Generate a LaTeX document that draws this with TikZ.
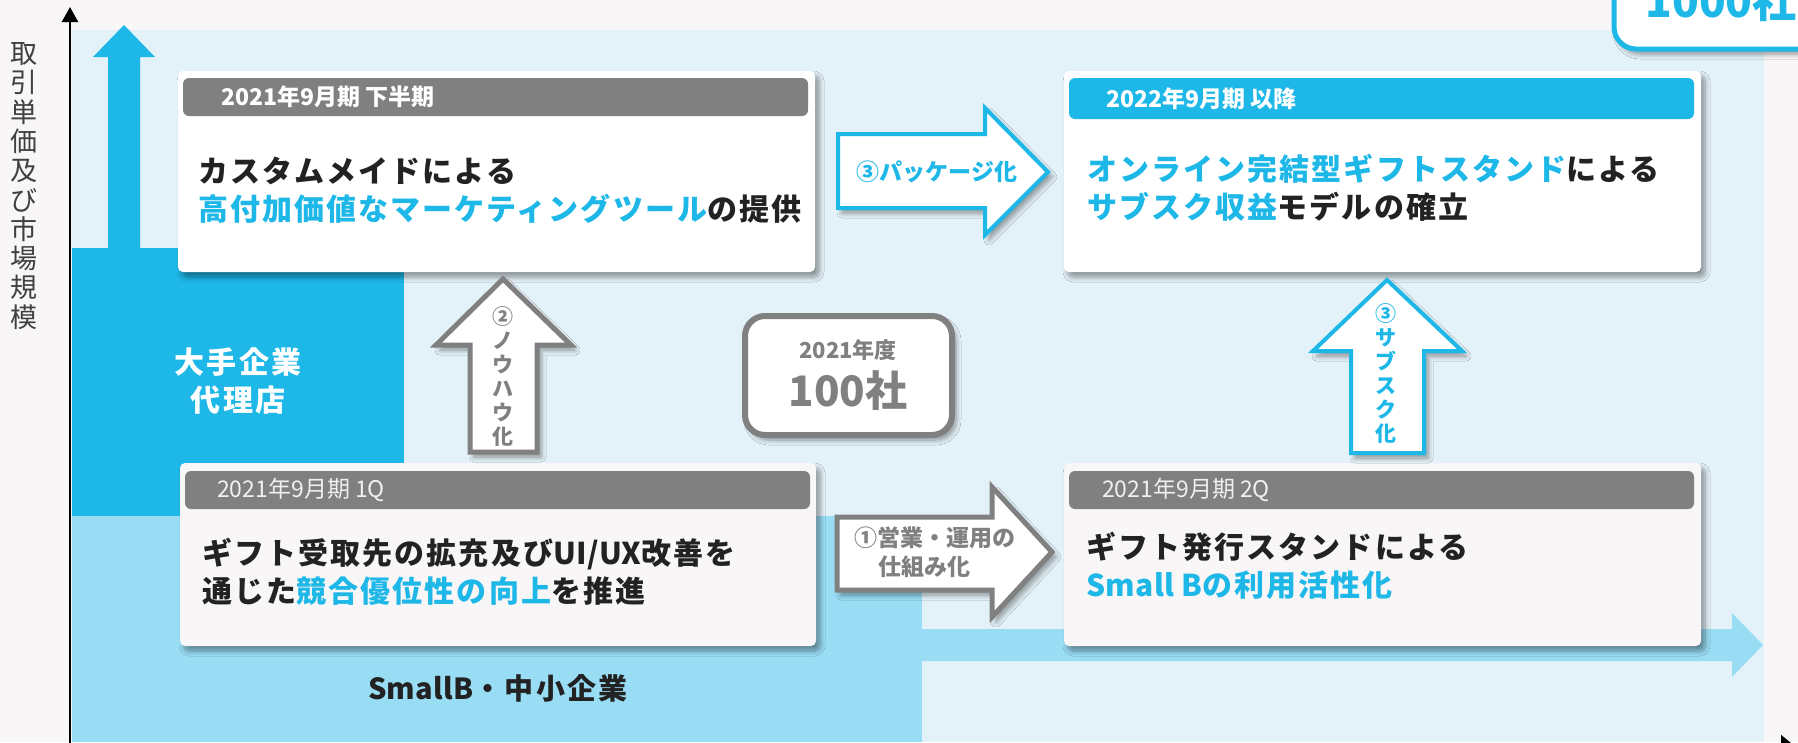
\documentclass[tikz,border=0pt]{standalone}
\usepackage{fontspec}
\setmainfont{Noto Sans CJK JP}
\usetikzlibrary{shadows.blur,arrows.meta}
\definecolor{bgc}{HTML}{F8F6F7}
\definecolor{panel}{HTML}{E3F1F8}
\definecolor{dblue}{HTML}{1DB7E8}
\definecolor{lblue}{HTML}{99DDF5}
\definecolor{hgray}{HTML}{808080}
\definecolor{ink}{HTML}{222222}
\definecolor{axlab}{HTML}{404040}
\definecolor{cardgray}{HTML}{F8F6F7}
\newcommand\myfs[2]{\fontsize{#1}{#2}\selectfont}
\newcommand\trk[1]{\addfontfeature{LetterSpace=#1}}
\newcommand\lat[1]{{\trk{1}#1}}
\tikzset{
  shd/.style={blur shadow={shadow xshift=4pt, shadow yshift=-5pt, shadow blur radius=5pt, shadow blur steps=8, shadow opacity=40}},
  cardbox/.style={shd, rounded corners=5pt, inner sep=0pt, outer sep=0pt, anchor=north west},
  hdrbar/.style={rounded corners=6pt, inner sep=0pt, outer sep=0pt, anchor=north west, minimum width=625pt},
  hdrtxt/.style={anchor=west, inner sep=0pt, font=\myfs{23}{28}},
  bodytxt/.style={anchor=west, align=left, inner sep=0pt, text=ink, font=\myfs{30}{38}\bfseries\trk{7}},
  grayarrow/.style={shd, draw=hgray, fill=white, line width=5pt, line join=miter},
  bluearrow/.style={shd, draw=dblue, fill=white, line width=4pt, line join=miter},
  vtext/.style={align=center, inner sep=0pt, font=\myfs{21}{24}\bfseries},
}
\begin{document}
\begin{tikzpicture}[x=1pt,y=-1pt]
\useasboundingbox (0,0) rectangle (1798,742);
\clip (0,0) rectangle (1798,742);
\fill[bgc] (0,0) rectangle (1798,742);
\fill[panel] (72,30) rectangle (1764,742);
% regions
\fill[dblue] (72,248) rectangle (404,516);
\fill[dblue] (108,250) -- (108,57) -- (93,57) -- (124,25) -- (155,57) -- (140,57) -- (140,250) -- cycle;
\fill[lblue] (72,516) rectangle (922,742);
\fill[lblue] (920,629) -- (1732,629) -- (1732,613) -- (1763,645) -- (1732,677) -- (1732,661) -- (920,661) -- cycle;
% axes
\coordinate (origin) at (70,760);
\coordinate (ytop) at (70,7);
\coordinate (xorig) at (70,748);
\coordinate (xend) at (1797,748);
\draw[line width=2.2pt, -{Triangle[width=16pt,length=15pt]}] (origin) -- (ytop);
\draw[line width=2.2pt, -{Triangle[width=26pt,length=16pt]}] (xorig) -- (xend);
\node[align=center, inner sep=0pt, text=axlab, font=\myfs{27}{29.3}] (ylab) at (24,186)
  {取\\引\\単\\価\\及\\び\\市\\場\\規\\模};
% region labels
\node[align=center, inner sep=0pt, text=white, font=\myfs{30}{38}\bfseries\trk{8}] (big) at (238,381) {大手企業\\代理店};
\node[inner sep=0pt, text=ink, font=\myfs{29}{34}\bfseries\trk{8}] (small) at (498,688) {\lat{SmallB}・中小企業};
% 1000 box (top right, partly hidden)
\draw[shd, draw=dblue, fill=white, line width=5pt, rounded corners=22pt] (1614,-100) rectangle (1850,49);
\node[anchor=base, inner sep=0pt, text=dblue, font=\myfs{44}{50}\bfseries] (n1000) at (1721,17) {1000社};
% cards
\node[cardbox, fill=white, minimum width=637pt, minimum height=201pt] (cardA) at (178,71) {};
\node[hdrbar, fill=hgray, minimum height=38pt] (hA) at (183,78) {};
\node[hdrtxt, text=white, font=\myfs{23}{28}\bfseries] (htA) at (221,97) {2021年9月期 下半期};
\node[bodytxt] (bA) at (198,190) {カスタムメイドによる\\\textcolor{dblue}{高付加価値なマーケティングツール}の提供};

\node[cardbox, fill=white, minimum width=637pt, minimum height=201pt] (cardB) at (1064,71) {};
\node[hdrbar, fill=dblue, minimum height=41pt] (hB) at (1069,78) {};
\node[hdrtxt, text=white, font=\myfs{23}{28}\bfseries] (htB) at (1106,99) {2022年9月期 以降};
\node[bodytxt] (bB) at (1087,188) {\textcolor{dblue}{オンライン完結型ギフトスタンド}による\\\textcolor{dblue}{サブスク収益}モデルの確立};

\node[cardbox, fill=cardgray, minimum width=636pt, minimum height=183pt] (cardC) at (180,463) {};
\node[hdrbar, fill=hgray, minimum height=38pt] (hC) at (185,471) {};
\node[hdrtxt, text=white!94!black] (htC) at (217,490) {2021年9月期 1Q};
\node[bodytxt] (bC) at (202,572) {ギフト受取先の拡充及び\lat{UI/UX}改善を\\通じた\textcolor{dblue}{競合優位性の向上}を推進};

\node[cardbox, fill=cardgray, minimum width=637pt, minimum height=183pt] (cardD) at (1064,463) {};
\node[hdrbar, fill=hgray, minimum height=38pt] (hD) at (1069,471) {};
\node[hdrtxt, text=white!94!black] (htD) at (1102,490) {2021年9月期 2Q};
\node[bodytxt] (bD) at (1086,566) {ギフト発行スタンドによる\\\textcolor{dblue}{\lat{Small B}の利用活性化}};

% 100 box
\draw[shd, draw=hgray, fill=white, line width=6pt, rounded corners=20pt] (745,316) rectangle (952,435);
\node[inner sep=0pt, text=hgray, font=\myfs{22}{26}\bfseries] (y2021) at (848,350) {2021年度};
\node[inner sep=0pt, text=hgray, font=\myfs{42}{50}\bfseries] (n100) at (848,391) {100社};

% block arrows
\draw[bluearrow] (838,134) -- (985,134) -- (985,108) -- (1048,172) -- (985,235) -- (985,208) -- (838,208) -- cycle;
\node[inner sep=0pt, text=dblue, font=\myfs{23}{26}\bfseries] (t3a) at (937,172) {③パッケージ化};

\draw[grayarrow] (837,517) -- (992,517) -- (992,487) -- (1052,552) -- (992,617) -- (992,590) -- (837,590) -- cycle;
\node[anchor=west, align=left, inner sep=0pt, text=hgray, font=\myfs{23}{29}\bfseries] (t1) at (854,552) {①営業・運用の\\\hspace{24pt}仕組み化};

\draw[grayarrow] (470,452) -- (470,345) -- (436,345) -- (503,279) -- (571,345) -- (537,345) -- (537,452) -- cycle;
\node[vtext, text=hgray] (t2) at (503,376) {②\\ノ\\ウ\\ハ\\ウ\\化};

\draw[bluearrow] (1351,453) -- (1351,351) -- (1313,351) -- (1387,280) -- (1462,351) -- (1424,351) -- (1424,453) -- cycle;
\node[vtext, text=dblue] (t3b) at (1386,373) {③\\サ\\ブ\\ス\\ク\\化};
\end{tikzpicture}
\end{document}
